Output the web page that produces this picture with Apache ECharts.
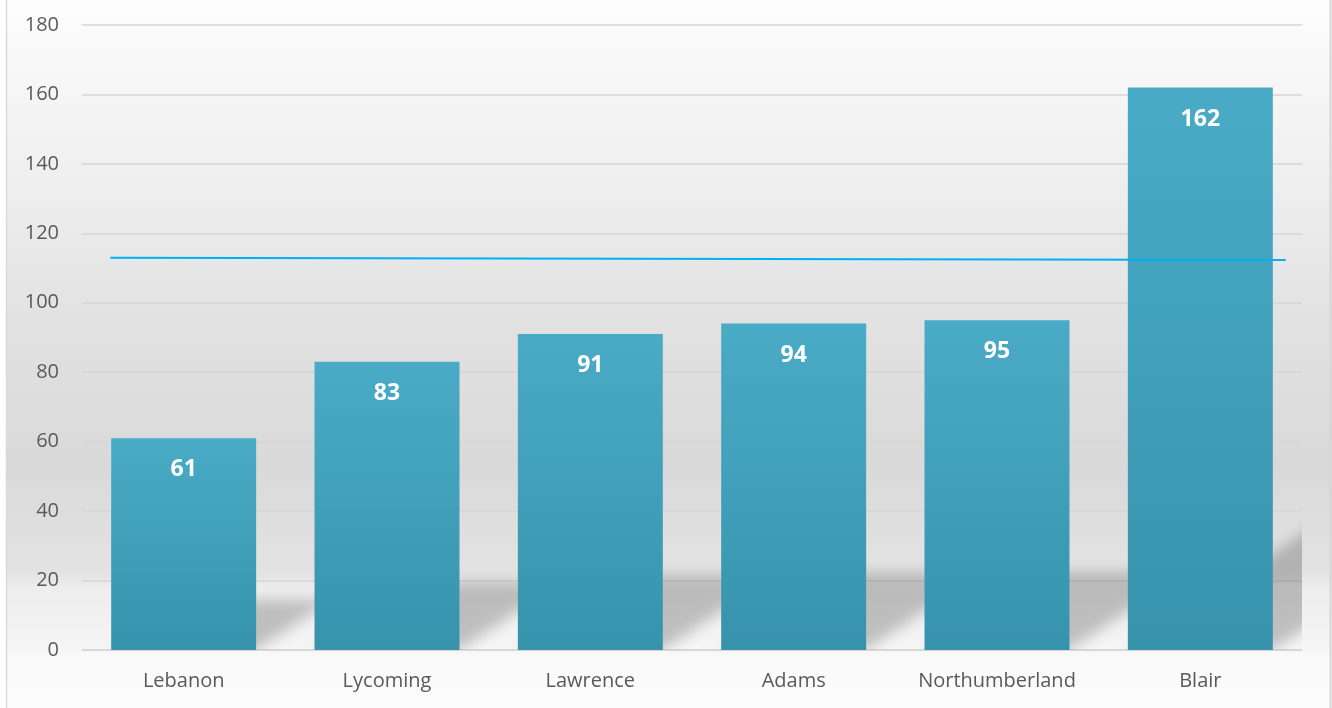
<!DOCTYPE html>
<html>
<head>
<meta charset="utf-8">
<script src="https://cdn.jsdelivr.net/npm/echarts@6/dist/echarts.min.js"></script>
<style>
  html, body { margin: 0; padding: 0; background: #ffffff; }
  #chart { width: 1332px; height: 708px; }
</style>
</head>
<body>
<div id="chart"></div>
<script>
// Counties and their counts
const counties = ['Lebanon', 'Lycoming', 'Lawrence', 'Adams', 'Northumberland', 'Blair'];
const counts = [61, 83, 91, 94, 95, 162];

// Value axis range
const yMin = 0;
const yMax = 180;
const yStep = 20;

// Reference line (x in category units, y in counts)
const refLineX = [-0.36, 5.42];
const refLineY = [113, 112.3];

const BAR_RATIO = 0.713;
const FONT = "'Open Sans', 'Noto Sans', sans-serif";

const chart = echarts.init(document.getElementById('chart'), null, { renderer: 'canvas' });

// Soft perspective shadow cast by each bar toward the upper right
function renderShadow(params, api) {
  const i = api.value(0);
  const top = api.coord([i, api.value(1)]);
  const base = api.coord([i, 0]);
  const bw = api.size([1, 0])[0] * BAR_RATIO;
  const h = (base[1] - top[1]) * 0.235;
  const k = 1.5;
  const L = base[0] - bw / 2, R = base[0] + bw / 2, y0 = base[1];
  const off = 4000;
  return {
    type: 'polygon',
    shape: {
      points: [
        [L - off, y0], [R - off, y0],
        [R + k * h - off, y0 - h], [L + k * h - off, y0 - h]
      ]
    },
    style: {
      fill: '#000',
      shadowColor: 'rgba(0,0,0,0.21)',
      shadowBlur: 14,
      shadowOffsetX: off,
      shadowOffsetY: 0
    }
  };
}

chart.setOption({
  animation: false,
  backgroundColor: {
    type: 'linear', x: 0, y: 0, x2: 0, y2: 1,
    colorStops: [
      { offset: 0.0, color: '#fdfdfd' },
      { offset: 0.25, color: '#efefef' },
      { offset: 0.45, color: '#e2e2e2' },
      { offset: 0.66, color: '#d9d9d9' },
      { offset: 0.81, color: '#e3e3e3' },
      { offset: 0.83, color: '#ededed' },
      { offset: 0.91, color: '#f4f4f4' },
      { offset: 0.93, color: '#fafafa' },
      { offset: 1.0, color: '#fbfbfb' }
    ]
  },
  graphic: [
    { type: 'rect', left: 0, top: 0, shape: { width: 6, height: 708 }, style: { fill: '#ffffff' }, z: 100 },
    { type: 'line', shape: { x1: 6.5, y1: 0, x2: 6.5, y2: 708 }, style: { stroke: '#d9d9d9', lineWidth: 1.5 }, z: 100 },
    { type: 'line', shape: { x1: 1330.5, y1: 0, x2: 1330.5, y2: 708 }, style: { stroke: '#d6d6d6', lineWidth: 2 }, z: 100 }
  ],
  grid: { left: 82, right: 30, top: 25, bottom: 58, containLabel: false },
  xAxis: [
    {
      type: 'category',
      data: counties,
      axisLine: { show: true, lineStyle: { color: '#d6d6d6', width: 1.5 } },
      axisTick: { show: false },
      axisLabel: { interval: 0, color: '#595959', fontSize: 20, fontFamily: FONT, margin: 21 },
      splitLine: { show: false }
    },
    {
      type: 'value', min: -0.5, max: 5.5, show: false
    }
  ],
  yAxis: {
    type: 'value',
    min: yMin, max: yMax, interval: yStep,
    axisLine: { show: false },
    axisTick: { show: false },
    axisLabel: { color: '#595959', fontSize: 20, fontFamily: FONT, margin: 23 },
    splitLine: { lineStyle: { color: '#d6d6d6', width: 1.5 } }
  },
  series: [
    {
      type: 'custom',
      xAxisIndex: 0,
      renderItem: renderShadow,
      data: counts.map((v, i) => [i, v]),
      clip: true,
      silent: true,
      z: 1
    },
    {
      type: 'bar',
      xAxisIndex: 0,
      data: counts,
      barWidth: (BAR_RATIO * 100) + '%',
      itemStyle: {
        color: {
          type: 'linear', x: 0, y: 0, x2: 0, y2: 1,
          colorStops: [
            { offset: 0, color: '#4aabc6' },
            { offset: 1, color: '#3793ac' }
          ]
        }
      },
      label: {
        show: true,
        position: 'insideTop',
        distance: 20,
        color: '#ffffff',
        fontSize: 23,
        fontWeight: 'bold',
        fontFamily: FONT
      },
      z: 2
    },
    {
      type: 'line',
      xAxisIndex: 1,
      data: refLineX.map((x, i) => [x, refLineY[i]]),
      symbol: 'none',
      lineStyle: { color: '#00b0f0', width: 2 },
      z: 3
    }
  ]
});
</script>
</body>
</html>
